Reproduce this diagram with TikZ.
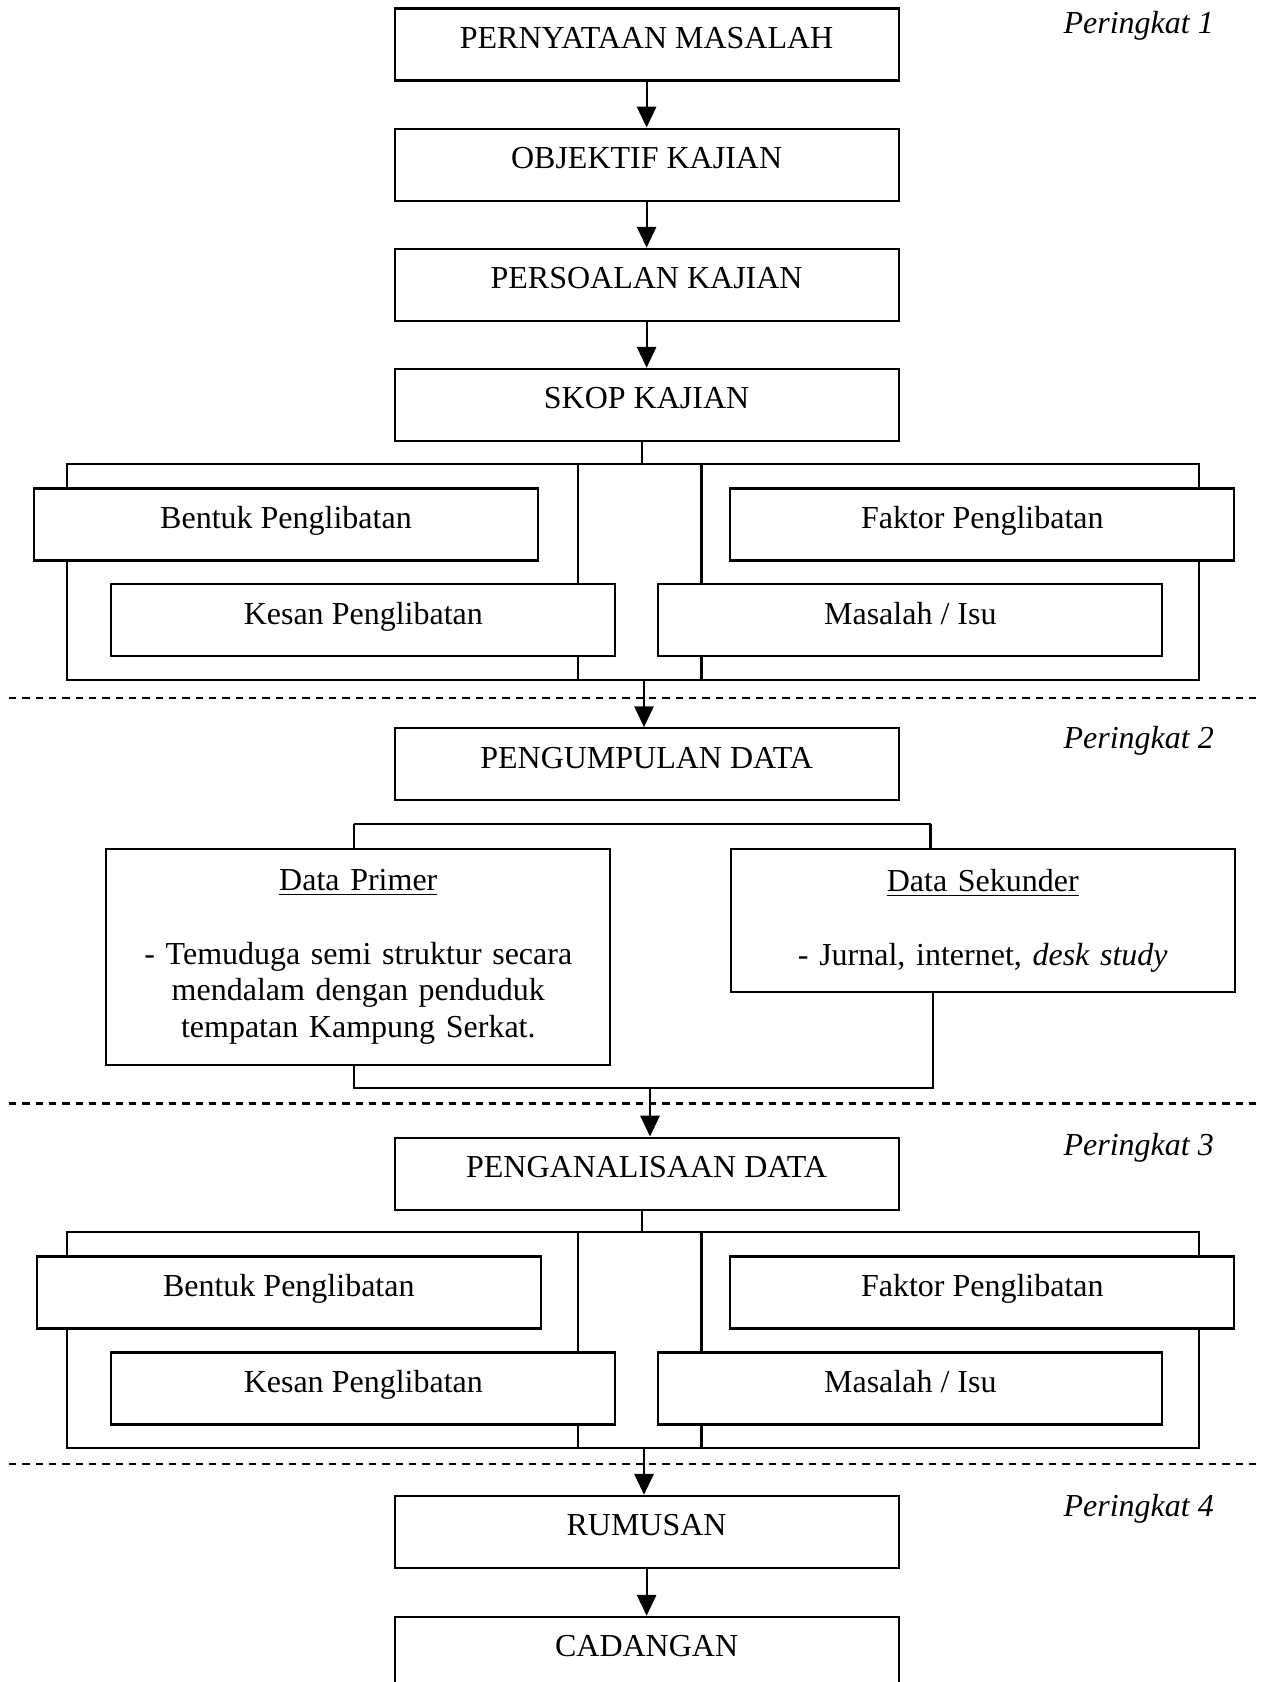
\documentclass[tikz,border=0pt]{standalone}
\usepackage{fontspec}
\setmainfont{Liberation Serif}
\usetikzlibrary{arrows.meta}

\newcommand{\bodyfont}{\fontsize{12}{13.8}\selectfont}

\tikzset{
  stage/.style={draw, fill=white, line width=0.8pt, minimum width=189pt,
    minimum height=27pt, inner sep=0pt, text height=9pt, text depth=6pt,
    font=\bodyfont},
  datbox/.style={draw, fill=white, line width=0.8pt, text width=183pt,
    align=center, inner xsep=3pt, inner ysep=7.5pt, anchor=north,
    font=\bodyfont},
  lvl/.style={anchor=base west, inner sep=0pt, font=\bodyfont\itshape},
  link/.style={line width=0.8pt},
  cut/.style={dash pattern=on 2.75pt off 2.25pt, line width=0.8pt}
}

\begin{document}
\begin{tikzpicture}[x=0.375pt, y=-0.375pt, >={Triangle[length=7.8pt,width=7.2pt]}]
\useasboundingbox (0,0) rectangle (1261,1682);

% kerangka belakang
\draw[link] (66.8,464) rectangle (1198.7,680);
\draw[link] (578.4,464) -- (578.4,680);
\draw[link] (701.5,464) -- (701.5,680);
\draw[link] (66.8,1232.3) rectangle (1198.7,1448.3);
\draw[link] (578.4,1232.3) -- (578.4,1448.3);
\draw[link] (701.5,1232.3) -- (701.5,1448.3);

% garis pemisah
\draw[cut] (9,698.3) -- (1256,698.3);
\draw[cut] (9,1103.5) -- (1256,1103.5);
\draw[cut] (9,1463.8) -- (1256,1463.8);

% peringkat 1
\node[stage] (pm) at (646.6,44.5) {PERNYATAAN MASALAH};
\node[stage] (ok) at (646.6,164.6) {OBJEKTIF KAJIAN};
\node[stage] (pk) at (646.6,284.7) {PERSOALAN KAJIAN};
\node[stage] (sk) at (646.6,404.8) {SKOP KAJIAN};
\node[stage] (bp1) at (286,524.5) {Bentuk Penglibatan};
\node[stage] (fp1) at (982.3,524.5) {Faktor Penglibatan};
\node[stage] (kp1) at (363.3,620.3) {Kesan Penglibatan};
\node[stage] (mi1) at (910.3,620.3) {Masalah / Isu};

% peringkat 2
\node[stage] (pd) at (646.6,764.2) {PENGUMPULAN DATA};
\node[datbox] (dp) at (358.3,848.3) {\underline{Data Primer}\\[13.8pt]
  - Temuduga semi struktur secara\\ mendalam dengan penduduk\\
  tempatan Kampung Serkat.};
\node[datbox] (ds) at (982.8,848.3) {\underline{Data Sekunder}\\[13.8pt]
  - Jurnal, internet, \textit{desk study}};

% peringkat 3
\node[stage] (pa) at (646.6,1173.6) {PENGANALISAAN DATA};
\node[stage] (bp2) at (288.8,1292.5) {Bentuk Penglibatan};
\node[stage] (fp2) at (982.3,1292.5) {Faktor Penglibatan};
\node[stage] (kp2) at (363.3,1388.5) {Kesan Penglibatan};
\node[stage] (mi2) at (910.3,1388.5) {Masalah / Isu};

% peringkat 4
\node[stage] (rm) at (646.6,1531.8) {RUMUSAN};
\node[stage] (cd) at (646.6,1652.8) {CADANGAN};

\node[lvl] (lv1) at (1063,33.5) {Peringkat 1};
\node[lvl] (lv2) at (1063,748) {Peringkat 2};
\node[lvl] (lv3) at (1063,1155.5) {Peringkat 3};
\node[lvl] (lv4) at (1063,1516) {Peringkat 4};

\coordinate (t1) at (642,464);
\coordinate (j1) at (644,680);
\coordinate (s1l) at (353.7,824.3);
\coordinate (s1r) at (930.5,824.3);
\coordinate (s2l) at (353.7,1088.3);
\coordinate (s2r) at (932.6,1088.3);
\coordinate (j2) at (650,1088.3);
\coordinate (t2) at (642,1232.3);
\coordinate (j3) at (644,1448.3);

\draw [->, link] (pm) -- (ok);
\draw [->, link] (ok) -- (pk);
\draw [->, link] (pk) -- (sk);
\draw [link] (sk.south -| t1) -- (t1);
\draw [->, link] (j1) -- (j1 |- pd.north);
\draw [link] (pd.south -| t1) -- (pd.south -| t1 |- s1l);
\draw [link] (s1l) -- (s1r);
\draw [link] (s1l) -- (dp.north -| s1l);
\draw [link] (s1r) -- (ds.north -| s1r);
\draw [link] (dp.south -| s2l) -- (s2l) -- (s2r) -- (ds.south -| s2r);
\draw [->, link] (j2) -- (j2 |- pa.north);
\draw [link] (pa.south -| t2) -- (t2);
\draw [->, link] (j3) -- (j3 |- rm.north);
\draw [->, link] (rm) -- (cd);
\end{tikzpicture}
\end{document}
